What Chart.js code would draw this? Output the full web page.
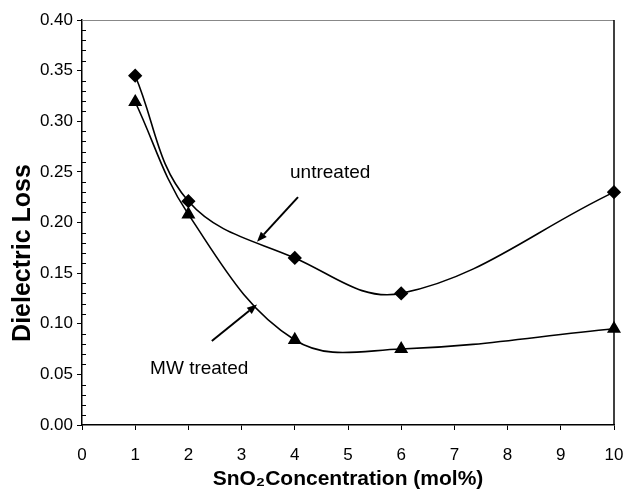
<!DOCTYPE html>
<html>
<head>
<meta charset="utf-8">
<script src="https://cdn.jsdelivr.net/npm/chart.js@4/dist/chart.umd.min.js"></script>
<style>
  html, body { margin: 0; padding: 0; background: #fff; }
  #wrap { width: 628px; height: 492px; }
</style>
</head>
<body>
<div id="wrap"><canvas id="lossChart" width="628" height="492"></canvas></div>
<script>
// SnO2 concentration (mol%)
var concentration = [1, 2, 4, 6, 10];
var untreated = [0.345, 0.221, 0.165, 0.130, 0.230];
var mwTreated = [0.319, 0.208, 0.084, 0.075, 0.095];
var yTickLabels = ['0.00', '0.05', '0.10', '0.15', '0.20', '0.25', '0.30', '0.35', '0.40'];

// text labels with arrows, in data units
var notes = [
    { text: 'untreated', tx: 3.91, ty: 0.249, from: [4.06, 0.225], to: [3.29, 0.181] },
    { text: 'MW treated', tx: 1.28, ty: 0.056, from: [2.44, 0.083], to: [3.29, 0.119] }
];

function toPoints(xs, ys) {
    return xs.map(function (x, i) { return { x: x, y: ys[i] }; });
}

var frameAndNotes = {
    id: 'frameAndNotes',
    afterDraw: function (chart) {
        var c = chart.ctx, a = chart.chartArea;
        var xs = chart.scales.x, ys = chart.scales.y;
        c.save();
        // top and right border
        c.strokeStyle = '#888';
        c.lineWidth = 1;
        c.beginPath();
        c.moveTo(a.left, a.top + 0.5);
        c.lineTo(a.right, a.top + 0.5);
        c.stroke();
        c.strokeStyle = '#000';
        c.lineWidth = 1.5;
        c.beginPath();
        c.moveTo(a.right, a.top);
        c.lineTo(a.right, a.bottom);
        c.stroke();

        // minor ticks on y, pointing inward
        c.lineWidth = 1;
        c.beginPath();
        for (var i = 0; i <= 40; i++) {
            if (i % 5 === 0) continue;
            var py = Math.round(ys.getPixelForValue(i / 100)) + 0.5;
            c.moveTo(a.left, py);
            c.lineTo(a.left + 4, py);
        }
        c.stroke();

        // notes and arrows
        c.fillStyle = '#000';
        c.font = '19px "Liberation Sans", Arial, sans-serif';
        c.textBaseline = 'middle';
        c.textAlign = 'left';
        notes.forEach(function (n) {
            c.fillText(n.text, xs.getPixelForValue(n.tx), ys.getPixelForValue(n.ty));
            var x1 = xs.getPixelForValue(n.from[0]), y1 = ys.getPixelForValue(n.from[1]);
            var x2 = xs.getPixelForValue(n.to[0]), y2 = ys.getPixelForValue(n.to[1]);
            var ang = Math.atan2(y2 - y1, x2 - x1);
            var hl = 10, hw = 4;
            var bx = x2 - hl * Math.cos(ang), by = y2 - hl * Math.sin(ang);
            c.lineWidth = 2;
            c.beginPath();
            c.moveTo(x1, y1);
            c.lineTo(bx, by);
            c.stroke();
            c.beginPath();
            c.moveTo(x2, y2);
            c.lineTo(bx + hw * Math.sin(ang), by - hw * Math.cos(ang));
            c.lineTo(bx - hw * Math.sin(ang), by + hw * Math.cos(ang));
            c.closePath();
            c.fill();
        });

        // y axis title
        c.font = 'bold 25px "Liberation Sans", Arial, sans-serif';
        c.textAlign = 'center';
        c.translate(23, 253);
        c.rotate(-Math.PI / 2);
        c.fillText('Dielectric Loss', 0, 0);
        c.restore();
    }
};

var ctx = document.getElementById('lossChart').getContext('2d');
var lossChart = new Chart(ctx, {
    type: 'line',
    data: {
        datasets: [{
            label: 'untreated',
            data: toPoints(concentration, untreated),
            borderColor: '#000',
            backgroundColor: '#000',
            borderWidth: 1.6,
            pointStyle: 'rectRot',
            pointRadius: 6,
            tension: 0.38,
            clip: false
        }, {
            label: 'MW treated',
            data: toPoints(concentration, mwTreated),
            borderColor: '#000',
            backgroundColor: '#000',
            borderWidth: 1.6,
            pointStyle: 'triangle',
            pointRadius: 6.5,
            tension: 0.38,
            clip: false
        }]
    },
    options: {
        responsive: false,
        animation: false,
        layout: { padding: { top: 20, right: 14, left: 0, bottom: 0 } },
        plugins: {
            legend: { display: false },
            tooltip: { enabled: false }
        },
        scales: {
            x: {
                type: 'linear',
                min: 0,
                max: 10,
                afterFit: function (s) {
                    s.height = 67;
                    s.paddingLeft = 0;
                    s.paddingRight = 0;
                },
                ticks: {
                    stepSize: 1,
                    padding: 15,
                    color: '#000',
                    font: { family: '"Liberation Sans", Arial, sans-serif', size: 17 }
                },
                grid: { drawOnChartArea: false, tickLength: 5, color: '#000' },
                border: { color: '#000', width: 1.5 },
                title: {
                    display: true,
                    text: 'SnO₂Concentration (mol%)',
                    color: '#000',
                    padding: { top: 0, bottom: 0 },
                    font: { family: '"Liberation Sans", Arial, sans-serif', size: 21, weight: 'bold' }
                }
            },
            y: {
                min: 0,
                max: 0.4,
                afterFit: function (s) {
                    s.width = 82;
                    s.paddingTop = 0;
                    s.paddingBottom = 0;
                },
                ticks: {
                    stepSize: 0.05,
                    padding: 4,
                    color: '#000',
                    font: { family: '"Liberation Sans", Arial, sans-serif', size: 17 },
                    callback: function (v, i) { return yTickLabels[i]; }
                },
                grid: { drawOnChartArea: false, tickLength: 5, color: '#000' },
                border: { color: '#000', width: 1.5 }
            }
        }
    },
    plugins: [frameAndNotes]
});
</script>
</body>
</html>
